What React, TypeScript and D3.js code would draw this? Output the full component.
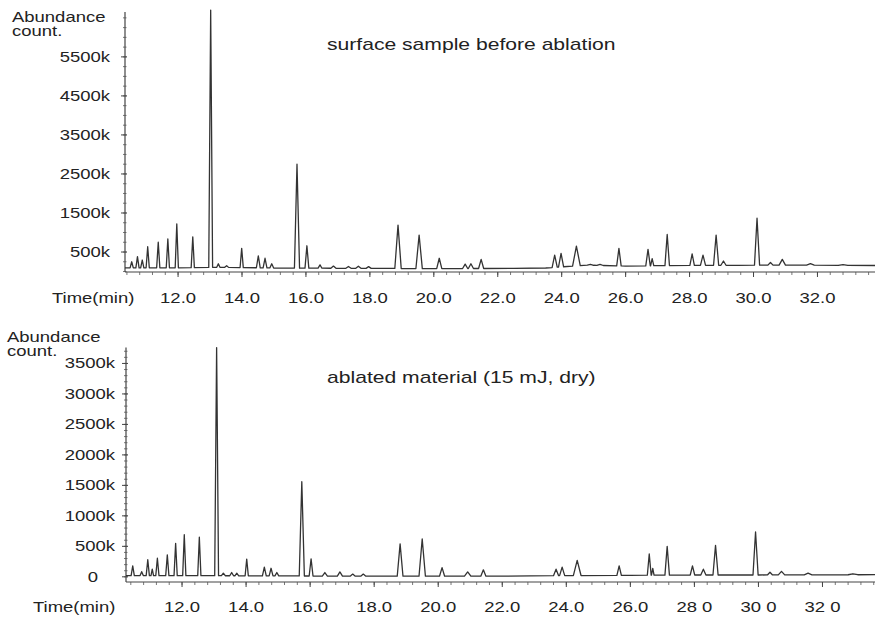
import React from 'react';
import * as d3 from 'd3';

// peaks: [time (min), abundance (k counts), half width (min)]
const topPeaks: [number, number, number][] = [
  [10.55, 250, 0.05], [10.73, 380, 0.05], [10.88, 295, 0.05], [11.05, 635, 0.05],
  [11.38, 750, 0.05], [11.68, 835, 0.05], [11.96, 1220, 0.05], [12.46, 890, 0.05],
  [13.02, 6700, 0.06], [13.26, 200, 0.05], [13.52, 150, 0.06], [13.99, 595, 0.05],
  [14.51, 400, 0.06], [14.72, 340, 0.06], [14.93, 200, 0.06], [15.72, 2750, 0.08],
  [16.03, 660, 0.06], [16.44, 170, 0.06], [16.86, 140, 0.08], [17.33, 130, 0.08],
  [17.64, 135, 0.08], [17.96, 125, 0.08], [18.88, 1190, 0.1], [19.54, 935, 0.1],
  [20.17, 340, 0.08], [20.98, 190, 0.08], [21.16, 200, 0.08], [21.48, 310, 0.08],
  [23.78, 420, 0.08], [23.98, 465, 0.08], [24.46, 650, 0.12], [24.9, 185, 0.1],
  [25.2, 185, 0.1], [25.79, 595, 0.07], [26.7, 570, 0.07], [26.83, 330, 0.05],
  [27.3, 950, 0.07], [28.08, 450, 0.07], [28.42, 420, 0.08], [28.83, 935, 0.08],
  [29.06, 270, 0.08], [30.11, 1365, 0.08], [30.53, 230, 0.08], [30.9, 310, 0.1],
  [31.78, 200, 0.12], [32.8, 175, 0.15],
];
const topBaseline: [number, number][] = [
  [10.34, 95], [12, 95], [13.3, 110], [15, 90], [16.5, 85], [20, 75], [22.5, 80],
  [23.5, 90], [24.8, 165], [26, 140], [28, 160], [29.5, 160], [31, 165], [33.8, 155],
];

const bottomPeaks: [number, number, number][] = [
  [10.46, 180, 0.05], [10.74, 85, 0.05], [10.93, 280, 0.05], [11.07, 125, 0.04],
  [11.23, 305, 0.05], [11.54, 360, 0.05], [11.8, 550, 0.05], [12.07, 690, 0.05],
  [12.54, 650, 0.05], [13.08, 3760, 0.06], [13.29, 60, 0.06], [13.55, 70, 0.06],
  [13.71, 60, 0.06], [14.02, 290, 0.05], [14.57, 160, 0.06], [14.78, 140, 0.06],
  [14.96, 70, 0.06], [15.74, 1560, 0.08], [16.03, 295, 0.06], [16.46, 70, 0.08],
  [16.93, 80, 0.08], [17.33, 45, 0.08], [17.66, 45, 0.08], [18.81, 540, 0.09],
  [19.5, 620, 0.1], [20.12, 150, 0.08], [20.92, 80, 0.1], [21.41, 115, 0.08],
  [23.68, 125, 0.08], [23.87, 160, 0.08], [24.34, 270, 0.12], [25.65, 180, 0.07],
  [26.59, 375, 0.06], [26.7, 140, 0.04], [27.15, 500, 0.07], [27.94, 180, 0.07],
  [28.28, 125, 0.08], [28.66, 515, 0.08], [29.91, 735, 0.08], [30.36, 75, 0.08],
  [30.72, 90, 0.1], [31.55, 60, 0.12], [32.95, 50, 0.15],
];
const bottomBaseline: [number, number][] = [
  [10.25, 20], [12, 20], [15, 15], [18, 10], [22, 10], [24, 20], [26, 25],
  [28, 30], [30, 30], [33.64, 35],
];

const timeTicks = [12, 14, 16, 18, 20, 22, 24, 26, 28, 30, 32];
const topTimeLabels = ['12.0', '14.0', '16.0', '18.0', '20.0', '22.0', '24.0', '26.0', '28.0', '30.0', '32.0'];
const bottomTimeLabels = ['12.0', '14.0', '16.0', '18.0', '20.0', '22.0', '24.0', '26.0', '28 0', '30 0', '32 0'];
const topAbundTicks = [500, 1500, 2500, 3500, 4500, 5500];
const topAbundLabels = ['500k', '1500k', '2500k', '3500k', '4500k', '5500k'];
const bottomAbundTicks = [0, 500, 1000, 1500, 2000, 2500, 3000, 3500];
const bottomAbundLabels = ['0', '500k', '1000k', '1500k', '2000k', '2500k', '3000k', '3500k'];

const FONT = '"Liberation Sans", Arial, sans-serif';
const STRETCH = 1.32; // scan is stretched horizontally
const INK = '#222';

function Label({ x, y, size = 14, anchor = 'start', children }: any) {
  return (
    <text
      transform={`translate(${x},${y}) scale(${STRETCH},1)`}
      textAnchor={anchor}
      fontSize={size}
      fontFamily={FONT}
      fill={INK}
    >
      {children}
    </text>
  );
}

// turn the peak list into a trace: base -> apex -> base for each peak
function tracePoints(peaks: [number, number, number][], baseline: [number, number][]) {
  const base = d3.scaleLinear()
    .domain(baseline.map(d => d[0]))
    .range(baseline.map(d => d[1]));
  const sorted = [...peaks].sort((a, b) => a[0] - b[0]);
  const inPeak = (t: number) => sorted.some(([c, , w]) => t > c - w && t < c + w);
  const pts: [number, number][] = [];
  baseline.forEach(([t, v]) => { if (!inPeak(t)) pts.push([t, v]); });
  sorted.forEach(([t, h, w], i) => {
    const prev = sorted[i - 1];
    const next = sorted[i + 1];
    if (!prev || prev[0] + prev[2] <= t - w) pts.push([t - w, base(t - w)]);
    pts.push([t, h]);
    if (next && t + w > next[0] - next[2]) {
      const m = (t + next[0]) / 2;
      pts.push([m, base(m) + 0.35 * (Math.min(h, next[1]) - base(m))]);
    } else {
      pts.push([t + w, base(t + w)]);
    }
  });
  return pts.sort((a, b) => a[0] - b[0]);
}

function Panel({ peaks, baseline, x, y, timeLabels, abundTicks, abundLabels, minorStep,
  labelRight, tickLabelY, timeTitleX, title, titleY, yTitleX, yTitleY }: any) {
  const [x0, x1] = x.range();
  const [yBottom, yTop] = y.range();
  const line = d3.line<[number, number]>()
    .x(d => x(d[0]))
    .y(d => y(d[1]));
  const pts = tracePoints(peaks, baseline);

  const t0 = x.domain()[0];
  const t1 = x.domain()[1];
  const minorX = d3.range(Math.ceil((t0 - 12) / 0.4) * 0.4 + 12, t1, 0.4);
  const minorY = d3.range(0, y.domain()[1], minorStep);

  return (
    <g>
      {/* y axis */}
      <line x1={x0} x2={x0} y1={yTop} y2={yBottom} stroke="#444" strokeWidth={1.2} />
      {minorY.map((v, i) => (
        <line key={'my' + i} x1={x0 - 2} x2={x0 + 1.5} y1={y(v)} y2={y(v)} stroke="#555" strokeWidth={0.8} />
      ))}
      {abundTicks.map((v: number, i: number) => (
        <g key={'yt' + i}>
          <line x1={x0 - 4} x2={x0 + 2} y1={y(v)} y2={y(v)} stroke="#444" strokeWidth={1} />
          <Label x={labelRight + (v === 0 ? -17 : 0)} y={y(v) + 5} anchor="end">{abundLabels[i]}</Label>
        </g>
      ))}

      {/* x axis */}
      <line x1={x0} x2={x1} y1={yBottom} y2={yBottom} stroke="#444" strokeWidth={1.2} />
      {minorX.map((t, i) => (
        <line key={'mx' + i} x1={x(t)} x2={x(t)} y1={yBottom} y2={yBottom + 3} stroke="#555" strokeWidth={0.8} />
      ))}
      {timeTicks.map((t, i) => (
        <g key={'xt' + i}>
          <line x1={x(t)} x2={x(t)} y1={yBottom} y2={yBottom + 5} stroke="#444" strokeWidth={1} />
          <Label x={x(t)} y={tickLabelY} anchor="middle">{timeLabels[i]}</Label>
        </g>
      ))}
      <Label x={timeTitleX} y={tickLabelY}>Time(min)</Label>

      {/* y title */}
      <Label x={yTitleX} y={yTitleY}>Abundance</Label>
      <Label x={yTitleX} y={yTitleY + 14}>count.</Label>

      <Label x={327} y={titleY} size={16}>{title}</Label>

      <path d={line(pts) || ''} fill="none" stroke="#333" strokeWidth={1.3} strokeLinejoin="round" />
    </g>
  );
}

export default function App() {
  const xTop = d3.scaleLinear().domain([10.34, 33.8]).range([125, 875]);
  const yTop = d3.scaleLinear().domain([-12, 6650]).range([272, 12]);
  const xBottom = d3.scaleLinear().domain([10.25, 33.64]).range([126, 875]);
  const yBottom = d3.scaleLinear().domain([-85, 3760]).range([582, 347.6]);

  return (
    <svg
      width={875}
      height={627}
      style={{ position: 'absolute', left: 0, top: 0, background: '#fff' }}
    >
      <rect width={875} height={627} fill="#fff" />
      <Panel
        peaks={topPeaks}
        baseline={topBaseline}
        x={xTop}
        y={yTop}
        timeLabels={topTimeLabels}
        abundTicks={topAbundTicks}
        abundLabels={topAbundLabels}
        minorStep={250}
        labelRight={110}
        tickLabelY={303}
        timeTitleX={52}
        title="surface sample before ablation"
        titleY={50}
        yTitleX={12}
        yTitleY={22}
      />
      <Panel
        peaks={bottomPeaks}
        baseline={bottomBaseline}
        x={xBottom}
        y={yBottom}
        timeLabels={bottomTimeLabels}
        abundTicks={bottomAbundTicks}
        abundLabels={bottomAbundLabels}
        minorStep={100}
        labelRight={115}
        tickLabelY={612}
        timeTitleX={33}
        title="ablated material (15 mJ, dry)"
        titleY={383}
        yTitleX={7}
        yTitleY={342}
      />
    </svg>
  );
}
